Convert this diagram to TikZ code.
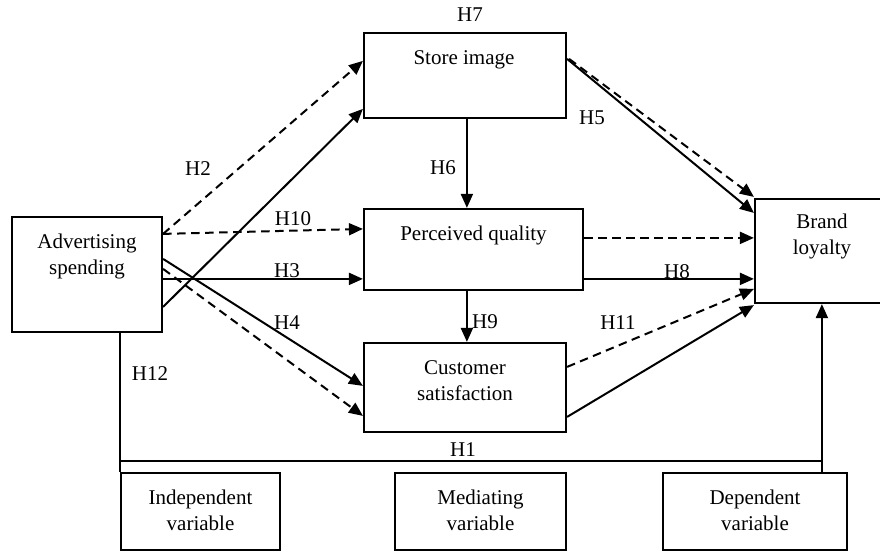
\documentclass[tikz,border=0pt]{standalone}
\usepackage{fontspec}
\setmainfont{Liberation Serif}
\usetikzlibrary{calc,arrows.meta}
\begin{document}
\begin{tikzpicture}[x=1pt,y=-1pt,
  box/.style={draw,line width=2.2pt,inner sep=0pt},
  txt/.style={align=center,font=\fontsize{21}{26}\selectfont,inner sep=0pt},
  hlab/.style={font=\fontsize{21}{24}\selectfont,inner sep=0pt},
  conn/.style={line width=2pt,-{Triangle[length=14pt,width=12pt]}},
  dconn/.style={conn,dash pattern=on 8.5pt off 5.5pt},
  plain/.style={line width=2pt}]
\useasboundingbox (0,0) rectangle (880,554);
\fill[white] (0,0) rectangle (880,554);
% boxes
\node[box,minimum width=150pt,minimum height=115pt] (adv) at (87,274.5) {};
\node[box,minimum width=202pt,minimum height=85pt] (si) at (465,75.5) {};
\node[box,minimum width=219pt,minimum height=81pt] (pq) at (473.5,249.5) {};
\node[box,minimum width=202pt,minimum height=89pt] (cs) at (465,387.5) {};
\node[box,minimum width=134pt,minimum height=104pt] (bl) at (822,251) {};
\node[box,minimum width=159pt,minimum height=77pt] (ind) at (200.5,511.5) {};
\node[box,minimum width=171pt,minimum height=77pt] (med) at (480.5,511.5) {};
\node[box,minimum width=184pt,minimum height=77pt] (dep) at (755,511.5) {};
% box texts
\node[txt] (advt) at (87,256) {Advertising\\spending};
\node[txt] (sit) at (464,60) {Store image};
\node[txt] (pqt) at (473.5,235) {Perceived quality};
\node[txt] (cst) at (465,381) {Customer\\satisfaction};
\node[txt] (blt) at (822,236) {Brand\\loyalty};
\node[txt] (indt) at (200.5,510) {Independent\\variable};
\node[txt] (medt) at (480.5,510) {Mediating\\variable};
\node[txt] (dept) at (755,510) {Dependent\\variable};
% connectors
\draw[dconn] ($(adv.north east)+(0,18)$) -- ($(si.north west)+(0,29)$);
\draw[conn] ($(adv.north east)+(0,91)$) -- ($(si.north west)+(0,77)$);
\draw[dconn] ($(adv.north east)+(0,18)$) -- ($(pq.north west)+(0,21)$);
\draw[conn] ($(adv.north east)+(0,63)$) -- ($(pq.north west)+(0,71)$);
\draw[conn] ($(adv.north east)+(0,43)$) -- ($(cs.north west)+(0,44)$);
\draw[dconn] ($(adv.north east)+(0,53)$) -- ($(cs.north west)+(0,74)$);
\draw[conn] ($(si.south west)+(104,0)$) -- ($(pq.north west)+(104,0)$);
\draw[conn] ($(pq.south west)+(104,0)$) -- ($(cs.north west)+(104,0)$);
\draw[conn] ($(si.north east)+(0,27)$) -- ($(bl.north west)+(0,15)$);
\draw[dconn] ($(si.north east)+(2,27)$) -- ($(bl.north west)+(0,-1)$);
\draw[dconn] ($(pq.north east)+(0,30)$) -- ($(bl.north west)+(0,40)$);
\draw[conn] ($(pq.north east)+(0,71)$) -- ($(bl.north west)+(0,81)$);
\draw[dconn] ($(cs.north east)+(0,25)$) -- ($(bl.north west)+(0,91)$);
\draw[conn] ($(cs.north east)+(0,75)$) -- ($(bl.south west)+(0,1)$);
\draw[plain] ($(adv.south west)+(109,0)$) -- ($(ind.north west)+(0,0)$);
\coordinate (h1a) at ($(ind.north west)+(0,-11)$);
\coordinate (h1b) at ($(dep.north west)+(160,-11)$);
\draw[plain] (h1a) -- (h1b);
\draw[conn] ($(dep.north west)+(160,0)$) -- ($(bl.south west)+(68,0)$);
% labels
\node[hlab] (l7) at (470,15) {H7};
\node[hlab] (l5) at (592,118) {H5};
\node[hlab] (l6) at (443,168) {H6};
\node[hlab] (l2) at (198,169) {H2};
\node[hlab] (l10) at (293,219) {H10};
\node[hlab] (l3) at (287,271) {H3};
\node[hlab] (l8) at (677,272) {H8};
\node[hlab] (l4) at (287,323) {H4};
\node[hlab] (l9) at (485,322) {H9};
\node[hlab] (l11) at (618,323) {H11};
\node[hlab] (l12) at (150,374) {H12};
\node[hlab] (l1) at (463,450) {H1};
\end{tikzpicture}
\end{document}
